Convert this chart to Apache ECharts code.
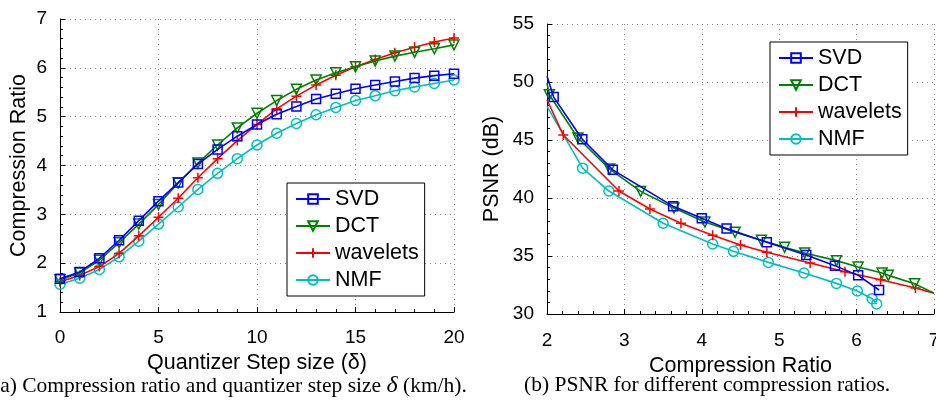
<!DOCTYPE html>
<html>
<head>
<meta charset="utf-8">
<script src="https://cdn.jsdelivr.net/npm/echarts@6/dist/echarts.min.js"></script>
<style>
  html, body { margin: 0; padding: 0; background: #fff; }
  #chart { width: 936px; height: 404px; }
</style>
</head>
<body>
<div id="chart"></div>
<script>
// left panel: compression ratio vs quantizer step
var steps = [0, 1, 2, 3, 4, 5, 6, 7, 8, 9, 10, 11, 12, 13, 14, 15, 16, 17, 18, 19, 20]
var crSVD = [1.68, 1.82, 2.1, 2.47, 2.87, 3.27, 3.65, 4.03, 4.33, 4.6, 4.84, 5.05, 5.21, 5.36, 5.47, 5.57, 5.65, 5.72, 5.79, 5.84, 5.88]
var crDCT = [1.66, 1.8, 2.06, 2.42, 2.8, 3.2, 3.64, 4.05, 4.42, 4.77, 5.07, 5.33, 5.56, 5.75, 5.9, 6.02, 6.14, 6.24, 6.32, 6.39, 6.47]
var crWav = [1.62, 1.75, 1.93, 2.2, 2.56, 2.94, 3.33, 3.75, 4.14, 4.51, 4.84, 5.16, 5.42, 5.65, 5.85, 6.02, 6.17, 6.31, 6.42, 6.53, 6.61]
var crNMF = [1.57, 1.69, 1.87, 2.13, 2.45, 2.8, 3.15, 3.51, 3.84, 4.14, 4.42, 4.66, 4.86, 5.04, 5.19, 5.33, 5.43, 5.53, 5.61, 5.68, 5.75]

// right panel: PSNR vs compression ratio (first/last entries of some are line ends without marker)
var psSVDx = [2.0, 2.086, 2.456, 2.85, 3.63, 4.0, 4.32, 4.84, 5.35, 5.72, 6.02, 6.29]
var psSVDy = [50.5, 48.7, 45.06, 42.43, 39.28, 38.25, 37.36, 36.18, 35.09, 34.17, 33.33, 32.07]
var psDCTx = [2.0, 2.03, 2.4, 2.81, 3.21, 3.64, 4.04, 4.43, 4.77, 5.07, 5.33, 5.74, 6.02, 6.33, 6.41, 6.75, 7.0]
var psDCTy = [49.9, 48.9, 45.17, 42.49, 40.57, 39.14, 37.93, 37.04, 36.35, 35.75, 35.26, 34.6, 34.05, 33.53, 33.33, 32.6, 31.8]
var psWavx = [2.0, 2.21, 2.93, 3.33, 3.73, 4.14, 4.5, 4.84, 5.4, 5.85, 6.31, 6.76, 7.0]
var psWavy = [48.47, 45.43, 40.6, 39.05, 37.82, 36.78, 35.95, 35.32, 34.4, 33.65, 32.96, 32.24, 31.8]
var psNMFx = [2.0, 2.46, 2.8, 3.5, 4.14, 4.41, 4.86, 5.32, 5.74, 6.01, 6.2, 6.26]
var psNMFy = [47.9, 42.57, 40.6, 37.82, 36.03, 35.4, 34.45, 33.53, 32.64, 31.98, 31.32, 30.86]
// which right-panel points are bare line ends (no marker)
var bareSVD = [0]
var bareDCT = [0, 16]
var bareWav = [0, 12]
var bareNMF = [0]

var names = ['SVD', 'DCT', 'wavelets', 'NMF']
var colors = ['#0000ff', '#008000', '#ff0000', '#00bfbf']
var plusPath = 'path://M0,5 L10,5 M5,0 L5,10'
var symbols = ['rect', 'triangle', plusPath, 'circle']
var sizes = [9, 10, 10, 10]

var font = 'Liberation Sans'

var chart = echarts.init(document.getElementById('chart'))

function pairs(xs, ys, bare) {
  return xs.map(function (x, i) {
    if (bare.indexOf(i) >= 0) return { value: [x, ys[i]], symbol: 'none' }
    return [x, ys[i]]
  })
}

function makeSeries(k, data, idx) {
  return {
    name: names[k],
    type: 'line',
    xAxisIndex: idx,
    yAxisIndex: idx,
    data: data,
    symbol: symbols[k],
    symbolSize: sizes[k],
    symbolRotate: k === 1 ? 180 : 0,
    showAllSymbol: true,
    clip: true,
    lineStyle: { color: colors[k], width: 1.6 },
    itemStyle: { color: 'rgba(255,255,255,0)', borderColor: colors[k], borderWidth: 1.5 },
    emphasis: { disabled: true },
    animation: false,
    z: 10 - k
  }
}

function axisCommon(margin) {
  return {
    axisLine: { lineStyle: { color: '#000', width: 1 } },
    axisTick: { inside: true, length: 5, lineStyle: { color: '#000' } },
    minorTick: { show: true, splitNumber: 5, length: 3, lineStyle: { color: '#000' } },
    splitLine: { show: true, lineStyle: { color: '#888', type: [1, 4], width: 1 } },
    axisLabel: { color: '#000', fontFamily: font, fontSize: 19, margin: margin },
    nameTextStyle: { color: '#000', fontFamily: font, fontSize: 21.5 },
    nameLocation: 'middle'
  }
}

function legendBox(left, top) {
  return {
    data: names,
    orient: 'vertical',
    left: left,
    top: top,
    backgroundColor: '#fff',
    borderColor: '#000',
    borderWidth: 1,
    borderRadius: 0,
    padding: [5, 6, 5, 8],
    itemWidth: 34,
    itemHeight: 12,
    itemGap: 5,
    selectedMode: false,
    textStyle: { color: '#000', fontFamily: font, fontSize: 21.5 }
  }
}

var series = []
var leftData = [crSVD, crDCT, crWav, crNMF]
for (var k = 0; k < 4; k++) {
  series.push(makeSeries(k, steps.map(function (s, i) { return [s, leftData[k][i]] }), 0))
}
series.push(makeSeries(0, pairs(psSVDx, psSVDy, bareSVD), 1))
series.push(makeSeries(1, pairs(psDCTx, psDCTy, bareDCT), 1))
series.push(makeSeries(2, pairs(psWavx, psWavy, bareWav), 1))
series.push(makeSeries(3, pairs(psNMFx, psNMFy, bareNMF), 1))

var option = {
  backgroundColor: '#fff',
  animation: false,
  grid: [
    { left: 60, right: 482, top: 19, bottom: 92, outerBoundsMode: 'none' },
    { left: 547, right: 2, top: 24, bottom: 90, outerBoundsMode: 'none' }
  ],
  xAxis: [
    Object.assign(axisCommon(16), { gridIndex: 0, type: 'value', min: 0, max: 20, interval: 5, name: 'Quantizer Step size (δ)', nameGap: 36 }),
    Object.assign(axisCommon(17), { gridIndex: 1, type: 'value', min: 2, max: 7, interval: 1, name: 'Compression Ratio', nameGap: 34 })
  ],
  yAxis: [
    Object.assign(axisCommon(13), { gridIndex: 0, type: 'value', min: 1, max: 7, interval: 1, name: 'Compression Ratio', nameGap: 30 }),
    Object.assign(axisCommon(13), { gridIndex: 1, type: 'value', min: 30, max: 55, interval: 5, name: 'PSNR (dB)', nameGap: 44 })
  ],
  legend: [legendBox(287, 183), legendBox(770, 42)],
  series: series,
  graphic: [
    {
      type: 'text', left: -7, top: 374,
      style: {
        text: '(a) Compression ratio and quantizer step size {i|δ} (km/h).',
        font: '21.5px "Liberation Serif"', fill: '#000',
        rich: { i: { font: 'italic 24px "Liberation Serif"', fill: '#000' } }
      }
    },
    {
      type: 'text', left: 524, top: 374,
      style: { text: '(b) PSNR for different compression ratios.', font: '21.5px "Liberation Serif"', fill: '#000' }
    }
  ]
}

chart.setOption(option)
</script>
</body>
</html>
